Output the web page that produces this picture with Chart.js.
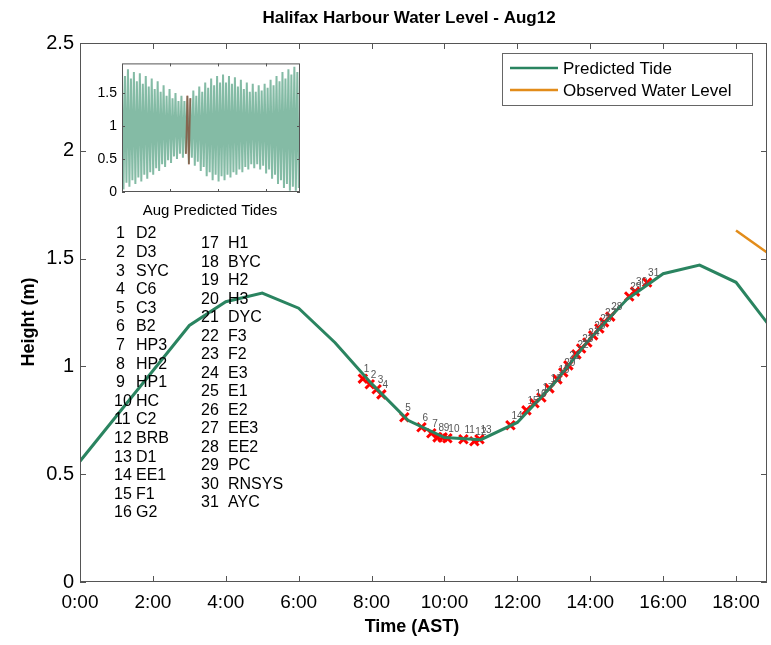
<!DOCTYPE html>
<html>
<head>
<meta charset="utf-8">
<script src="https://cdn.jsdelivr.net/npm/chart.js@4/dist/chart.umd.min.js"></script>
<style>
  html, body { margin: 0; padding: 0; background: #fff; }
  #wrap { position: relative; width: 771px; height: 645px; }
  #mainCanvas { position: absolute; left: 0; top: 0; }
  #insetCanvas { position: absolute; left: 90px; top: 50px; }
</style>
</head>
<body>
<div id="wrap">
  <canvas id="mainCanvas" width="771" height="645"></canvas>
  <canvas id="insetCanvas" width="215" height="172"></canvas>
</div>
<script>
// Halifax Harbour, 12 Aug -- predicted tide, observed level, station passages.
const TITLE = 'Halifax Harbour Water Level - Aug12';

const xTickValues = [0, 2, 4, 6, 8, 10, 12, 14, 16, 18];
const xTickLabels = ['0:00', '2:00', '4:00', '6:00', '8:00', '10:00', '12:00', '14:00', '16:00', '18:00'];

// predicted tide, hourly (m)
const predHours   = [0, 1, 2, 3, 4, 5, 6, 7, 8, 9, 10, 11, 12, 13, 14, 15, 16, 17, 18, 19];
const predHeights = [0.56, 0.77, 0.98, 1.19, 1.30, 1.34, 1.27, 1.11, 0.92, 0.75, 0.67, 0.66, 0.74, 0.92, 1.13, 1.31, 1.43, 1.47, 1.39, 1.17];

// observed water level (only the last bit)
const obsHours   = [18, 19];
const obsHeights = [1.63, 1.51];

// stations visited (numbered crosses)
const stationNames = ['D2', 'D3', 'SYC', 'C6', 'C3', 'B2', 'HP3', 'HP2', 'HP1', 'HC', 'C2', 'BRB', 'D1', 'EE1', 'F1', 'G2',
                      'H1', 'BYC', 'H2', 'H3', 'DYC', 'F3', 'F2', 'E3', 'E1', 'E2', 'EE3', 'EE2', 'PC', 'RNSYS', 'AYC'];
const stationHours = [7.76, 7.95, 8.14, 8.27, 8.90, 9.37, 9.64, 9.81, 9.95, 10.08, 10.52, 10.82, 10.96, 11.81,
                      12.25, 12.47, 12.66, 12.88, 13.10, 13.26, 13.40, 13.62, 13.75, 13.92, 14.08, 14.25, 14.38, 14.55,
                      15.07, 15.23, 15.56];
const stationHeights = [0.943, 0.917, 0.894, 0.870, 0.764, 0.718, 0.690, 0.671, 0.671, 0.667, 0.662, 0.653, 0.662, 0.727,
                        0.796, 0.829, 0.856, 0.898, 0.940, 0.972, 1.005, 1.056, 1.083, 1.111, 1.144, 1.176, 1.204, 1.231,
                        1.324, 1.347, 1.389];

// inset: August high / low waters, one pair per tidal cycle
const augHighs = [1.88, 1.76, 1.86, 1.72, 1.82, 1.68, 1.80, 1.64, 1.76, 1.60, 1.72, 1.56, 1.68, 1.52, 1.62, 1.46,
                  1.56, 1.42, 1.50, 1.38, 1.46, 1.38, 1.46, 1.42, 1.54, 1.46, 1.60, 1.52, 1.66, 1.58, 1.72, 1.62,
                  1.76, 1.66, 1.78, 1.66, 1.76, 1.64, 1.74, 1.60, 1.70, 1.56, 1.66, 1.52, 1.64, 1.52, 1.62, 1.54,
                  1.64, 1.58, 1.70, 1.62, 1.76, 1.68, 1.82, 1.72, 1.86, 1.78, 1.90, 1.82];
const augLows  = [0.04, 0.14, 0.08, 0.18, 0.12, 0.22, 0.16, 0.26, 0.20, 0.30, 0.26, 0.36, 0.32, 0.42, 0.38, 0.48,
                  0.44, 0.54, 0.50, 0.58, 0.52, 0.58, 0.42, 0.52, 0.40, 0.46, 0.32, 0.38, 0.24, 0.30, 0.18, 0.26,
                  0.16, 0.24, 0.18, 0.26, 0.22, 0.30, 0.26, 0.34, 0.30, 0.38, 0.34, 0.42, 0.36, 0.42, 0.34, 0.40,
                  0.28, 0.34, 0.20, 0.26, 0.12, 0.18, 0.06, 0.12, 0.02, 0.08, 0.02, 0.06];
const insetTickValues = [32.3, 64.6, 97];
const insetYTicks = [0, 0.5, 1, 1.5];
const AUG12_FIRST = 43, AUG12_LAST = 46;   // extremes falling on the 12th

const COL_PRED = '#2a8460';
const COL_OBS  = '#e28c1a';
const COL_AXIS = '#555';
const FONT = "'Liberation Sans', Arial, sans-serif";

// inward ticks + box, shared by both charts
function drawBox(chart, len, xVals) {
  const ctx = chart.ctx, a = chart.chartArea;
  const xs = chart.scales.x, ys = chart.scales.y;
  ctx.save();
  ctx.strokeStyle = COL_AXIS;
  ctx.lineWidth = 1;
  ctx.strokeRect(a.left + 0.5, a.top + 0.5, a.right - a.left - 1, a.bottom - a.top - 1);
  ctx.beginPath();
  xVals.forEach(v => {
    const px = Math.round(xs.getPixelForValue(v)) + 0.5;
    ctx.moveTo(px, a.bottom); ctx.lineTo(px, a.bottom - len);
    ctx.moveTo(px, a.top); ctx.lineTo(px, a.top + len);
  });
  ys.ticks.forEach(t => {
    const py = Math.round(ys.getPixelForValue(t.value)) + 0.5;
    ctx.moveTo(a.left, py); ctx.lineTo(a.left + len, py);
    ctx.moveTo(a.right, py); ctx.lineTo(a.right - len, py);
  });
  ctx.stroke();
  ctx.restore();
}

const mainDecor = {
  id: 'mainDecor',
  beforeDraw(chart) {
    const ctx = chart.ctx;
    ctx.save();
    ctx.fillStyle = '#fff';
    ctx.fillRect(0, 0, chart.width, chart.height);
    ctx.restore();
  },
  afterDraw(chart) {
    const ctx = chart.ctx, xs = chart.scales.x;
    drawBox(chart, 6, xTickValues);

    ctx.save();
    ctx.fillStyle = '#000';
    ctx.textAlign = 'center';
    ctx.textBaseline = 'middle';

    // x tick labels
    ctx.font = '19px ' + FONT;
    xTickValues.forEach((v, i) => ctx.fillText(xTickLabels[i], xs.getPixelForValue(v), 603));

    ctx.font = 'bold 17px ' + FONT;
    ctx.fillText(TITLE, 409, 18);
    ctx.font = 'bold 18px ' + FONT;
    ctx.fillText('Time (AST)', 412, 627);
    ctx.save();
    ctx.translate(29, 322);
    ctx.rotate(-Math.PI / 2);
    ctx.fillText('Height (m)', 0, 0);
    ctx.restore();

    // station list
    ctx.font = '16px ' + FONT;
    ctx.textAlign = 'left';
    stationNames.forEach((n, i) => {
      let nx, sx, y;
      if (i < 16) { nx = 114; sx = 136; y = 234 + i * 18.6; }
      else { nx = 201; sx = 228; y = 244 + (i - 16) * 18.5; }
      ctx.fillText(String(i + 1), i < 9 ? nx + 2 : nx, y);
      ctx.fillText(n, sx, y);
    });

    // numbers beside the crosses
    const meta = chart.getDatasetMeta(2);
    ctx.font = '10px ' + FONT;
    ctx.fillStyle = '#555';
    meta.data.forEach((p, i) => {
      ctx.fillText(String(i + 1), p.x + 1, p.y - 9);
    });

    // legend
    const lx = 502, ly = 53, lw = 250, lh = 52;
    ctx.fillStyle = '#fff';
    ctx.fillRect(lx, ly, lw, lh);
    ctx.strokeStyle = '#666';
    ctx.lineWidth = 1;
    ctx.strokeRect(lx + 0.5, ly + 0.5, lw, lh);
    ctx.font = '17px ' + FONT;
    [[chart.data.datasets[0], 68], [chart.data.datasets[1], 90]].forEach(([ds, y]) => {
      ctx.strokeStyle = ds.borderColor;
      ctx.lineWidth = 2.5;
      ctx.beginPath(); ctx.moveTo(510, y); ctx.lineTo(558, y); ctx.stroke();
      ctx.fillStyle = '#000';
      ctx.fillText(ds.label, 563, y + 1);
    });
    ctx.restore();
  }
};

new Chart(document.getElementById('mainCanvas'), {
  type: 'line',
  data: {
    datasets: [
      { label: 'Predicted Tide', data: predHours.map((h, i) => ({ x: h, y: predHeights[i] })),
        borderColor: COL_PRED, borderWidth: 3, pointRadius: 0, tension: 0 },
      { label: 'Observed Water Level', data: obsHours.map((h, i) => ({ x: h, y: obsHeights[i] })),
        borderColor: COL_OBS, borderWidth: 2.5, pointRadius: 0, tension: 0 },
      { label: 'Stations', data: stationHours.map((h, i) => ({ x: h, y: stationHeights[i] })),
        showLine: false, pointStyle: 'crossRot', pointRadius: 6, borderColor: '#ff0000',
        backgroundColor: '#ff0000', pointBorderWidth: 3 }
    ]
  },
  options: {
    responsive: false,
    animation: false,
    events: [],
    layout: { autoPadding: false, padding: { top: 43, right: 4, left: 0, bottom: 0 } },
    plugins: { legend: { display: false }, tooltip: { enabled: false } },
    scales: {
      x: {
        type: 'linear', min: 0, max: 18.85,
        grid: { display: false, drawTicks: false }, border: { display: false },
        afterBuildTicks: s => { s.ticks = xTickValues.map(v => ({ value: v })); },
        afterFit: s => { s.height = 63; },
        ticks: { display: false }
      },
      y: {
        min: 0, max: 2.5,
        grid: { display: false, drawTicks: false }, border: { display: false },
        afterFit: s => { s.width = 80; },
        ticks: { stepSize: 0.5, color: '#000', font: { family: FONT, size: 20 }, padding: 6,
                 callback: v => String(+v) }
      }
    }
  },
  plugins: [mainDecor]
});

// ---- inset: whole month ----
const augSeries = [];
augHighs.forEach((h, i) => { augSeries.push({ x: 2 * i, y: h }); augSeries.push({ x: 2 * i + 1, y: augLows[i] }); });

const insetDecor = {
  id: 'insetDecor',
  beforeDraw(chart) {
    const ctx = chart.ctx;
    ctx.save();
    ctx.fillStyle = '#fff';
    ctx.fillRect(0, 0, chart.width, chart.height);
    ctx.restore();
  },
  afterDraw(chart) {
    const ctx = chart.ctx;
    drawBox(chart, 3, insetTickValues);
    ctx.save();
    ctx.fillStyle = '#000';
    ctx.textAlign = 'center';
    ctx.textBaseline = 'middle';
    ctx.font = '15px ' + FONT;
    ctx.fillText('Aug Predicted Tides', 120, 161);
    ctx.restore();
  }
};

new Chart(document.getElementById('insetCanvas'), {
  type: 'line',
  data: {
    datasets: [
      { data: augSeries, borderColor: 'rgba(56,146,110,0.62)', borderWidth: 2, pointRadius: 0, tension: 0 },
      { data: augSeries.slice(AUG12_FIRST, AUG12_LAST + 1), borderColor: '#ff2020', borderWidth: 1.6, pointRadius: 0, tension: 0 }
    ]
  },
  options: {
    responsive: false,
    animation: false,
    events: [],
    layout: { autoPadding: false, padding: { top: 8, right: 5, left: 0, bottom: 0 } },
    plugins: { legend: { display: false }, tooltip: { enabled: false } },
    scales: {
      x: {
        type: 'linear', min: 0, max: 119.8,
        grid: { display: false, drawTicks: false }, border: { display: false },
        ticks: { display: false },
        afterFit: s => { s.height = 30; }
      },
      y: {
        min: 0, max: 1.95,
        grid: { display: false, drawTicks: false }, border: { display: false },
        afterBuildTicks: s => { s.ticks = insetYTicks.map(v => ({ value: v })); },
        afterFit: s => { s.width = 32; },
        ticks: { color: '#000', font: { family: FONT, size: 14 }, padding: 5, callback: v => String(+v) }
      }
    }
  },
  plugins: [insetDecor]
});
</script>
</body>
</html>
